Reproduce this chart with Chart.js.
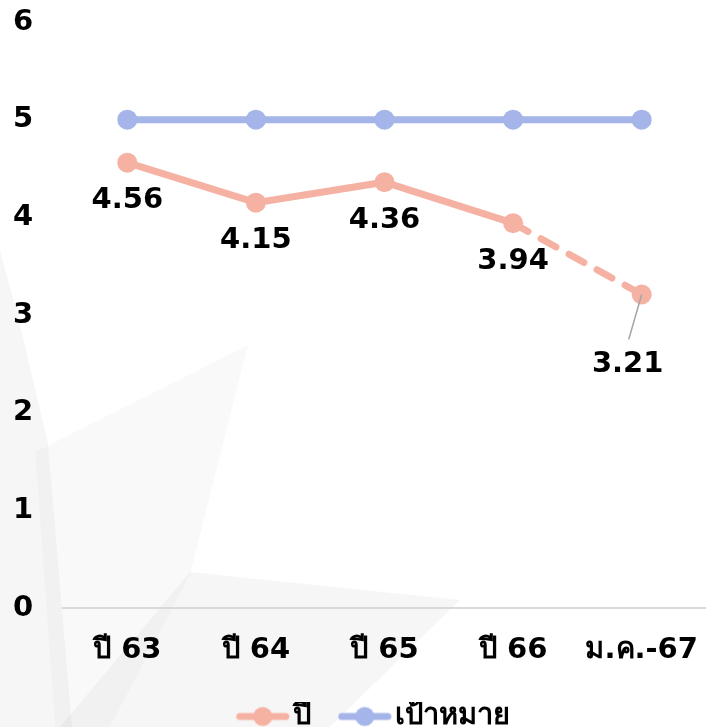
<!DOCTYPE html>
<html>
<head>
<meta charset="utf-8">
<script src="https://cdn.jsdelivr.net/npm/chart.js@4/dist/chart.umd.min.js"></script>
<style>
  html, body { margin: 0; padding: 0; background: #fff; overflow: hidden; }
  #wrap { position: relative; width: 706px; height: 727px; }
  #grafic { display: block; }
</style>
</head>
<body>
<div id="wrap"><canvas id="grafic"></canvas></div>
<script>
// dades del gràfic
const categories = ['ปี 63', 'ปี 64', 'ปี 65', 'ปี 66', 'ม.ค.-67'];
const valorsAny = [4.56, 4.15, 4.36, 3.94, 3.21];
const valorsObjectiu = [5, 5, 5, 5, 5];
const nomsSeries = ['ปี', 'เป้าหมาย'];
const eixY = { min: 0, max: 6, pas: 1 };

const colorRosa = 'rgb(245,178,163)';
const colorBlau = 'rgb(165,180,233)';
const font = "'DejaVu Sans', 'Noto Sans', sans-serif";

// icona de la llegenda: línia amb un punt, arrambada a la dreta del canvas
function iconaLlegenda(color) {
	let c = document.createElement('canvas');
	c.width = 92;
	c.height = 22;
	let ctx = c.getContext('2d');
	let x0 = c.width - 54;
	ctx.strokeStyle = color;
	ctx.lineWidth = 7;
	ctx.lineCap = 'round';
	ctx.beginPath();
	ctx.moveTo(x0 + 4, 11);
	ctx.lineTo(x0 + 50, 11);
	ctx.stroke();
	ctx.fillStyle = color;
	ctx.beginPath();
	ctx.arc(x0 + 27, 11, 9.5, 0, Math.PI * 2);
	ctx.fill();
	return c;
}

// fons amb triangles grisos
const fons = {
	id: 'fons',
	beforeDraw(chart) {
		let ctx = chart.ctx;
		let poligons = [
			{ p: [[0, 250], [20, 325], [48, 443], [72, 727], [0, 727]], c: 'rgba(0,0,0,0.035)' },
			{ p: [[35, 452], [248, 345], [190, 575], [110, 727], [55, 727]], c: 'rgba(0,0,0,0.025)' },
			{ p: [[190, 572], [460, 600], [330, 727], [60, 727]], c: 'rgba(0,0,0,0.035)' }
		];
		ctx.save();
		poligons.forEach(pol => {
			ctx.fillStyle = pol.c;
			ctx.beginPath();
			pol.p.forEach((pt, i) => i ? ctx.lineTo(pt[0], pt[1]) : ctx.moveTo(pt[0], pt[1]));
			ctx.closePath();
			ctx.fill();
		});
		ctx.restore();
	}
};

// etiquetes de valor sota els punts de la sèrie "ปี"
const desplacaments = [[0, 38], [0, 38], [0, 38], [0, 38], [-14, 70]];
const etiquetes = {
	id: 'etiquetes',
	afterDatasetsDraw(chart) {
		let ctx = chart.ctx;
		let meta = chart.getDatasetMeta(0);
		ctx.save();
		ctx.font = 'bold 29px ' + font;
		ctx.fillStyle = '#000';
		ctx.textAlign = 'center';
		ctx.textBaseline = 'middle';
		meta.data.forEach((pt, i) => {
			let d = desplacaments[i];
			let x = pt.x + d[0];
			let y = pt.y + d[1];
			if (d[1] > 50) {
				// línia guia cap a l'etiqueta allunyada
				ctx.strokeStyle = '#a6a6a6';
				ctx.lineWidth = 1.5;
				ctx.beginPath();
				ctx.moveTo(pt.x, pt.y);
				ctx.lineTo(x + 1, y - 25);
				ctx.stroke();
			}
			ctx.fillText(valorsAny[i].toFixed(2), x, y);
		});
		ctx.restore();
	}
};

const data = {
	labels: categories,
	datasets: [{
		label: nomsSeries[0],
		data: valorsAny,
		borderColor: colorRosa,
		backgroundColor: colorRosa,
		borderWidth: 7,
		borderCapStyle: 'round',
		pointRadius: 10,
		pointBorderWidth: 0,
		pointHoverRadius: 10,
		segment: {
			borderDash: ctx => ctx.p0DataIndex === 3 ? [17, 15] : undefined
		}
	}, {
		label: nomsSeries[1],
		data: valorsObjectiu,
		borderColor: colorBlau,
		backgroundColor: colorBlau,
		borderWidth: 7,
		borderCapStyle: 'round',
		pointRadius: 10,
		pointBorderWidth: 0,
		pointHoverRadius: 10
	}]
};

const iconesLlegenda = [iconaLlegenda(colorRosa), iconaLlegenda(colorBlau)];

const config = {
	type: 'line',
	data: data,
	options: {
		responsive: true,
		maintainAspectRatio: false,
		animation: false,
		layout: {
			autoPadding: false,
			padding: { top: 22, left: 13, right: 0, bottom: -14 }
		},
		plugins: {
			tooltip: { enabled: false },
			legend: {
				position: 'bottom',
				labels: {
					usePointStyle: true,
					pointStyleWidth: 69.5,
					padding: 0,
					color: '#000',
					font: { family: font, size: 29, weight: 'bold' },
					generateLabels(chart) {
						return chart.data.datasets.map((ds, i) => ({
							text: ds.label,
							pointStyle: iconesLlegenda[i],
							fillStyle: ds.backgroundColor,
							strokeStyle: ds.borderColor,
							lineWidth: 0,
							hidden: false,
							datasetIndex: i
						}));
					}
				}
			}
		},
		scales: {
			x: {
				offset: true,
				grid: { drawOnChartArea: false, tickLength: 25, tickColor: 'rgba(0,0,0,0)' },
				border: { display: true, color: '#d9d9d9', width: 2 },
				afterFit(scale) { scale.height = 94; },
				ticks: {
					color: '#000',
					padding: 0,
					font: { family: font, size: 29, weight: 'bold' }
				}
			},
			y: {
				min: eixY.min,
				max: eixY.max,
				grid: { display: false },
				border: { display: false },
				afterFit(scale) { scale.width = 50; },
				ticks: {
					stepSize: eixY.pas,
					crossAlign: 'far',
					color: '#000',
					font: { family: font, size: 29, weight: 'bold' }
				}
			}
		}
	},
	plugins: [fons, etiquetes]
};

new Chart(document.getElementById('grafic'), config);
</script>
</body>
</html>
